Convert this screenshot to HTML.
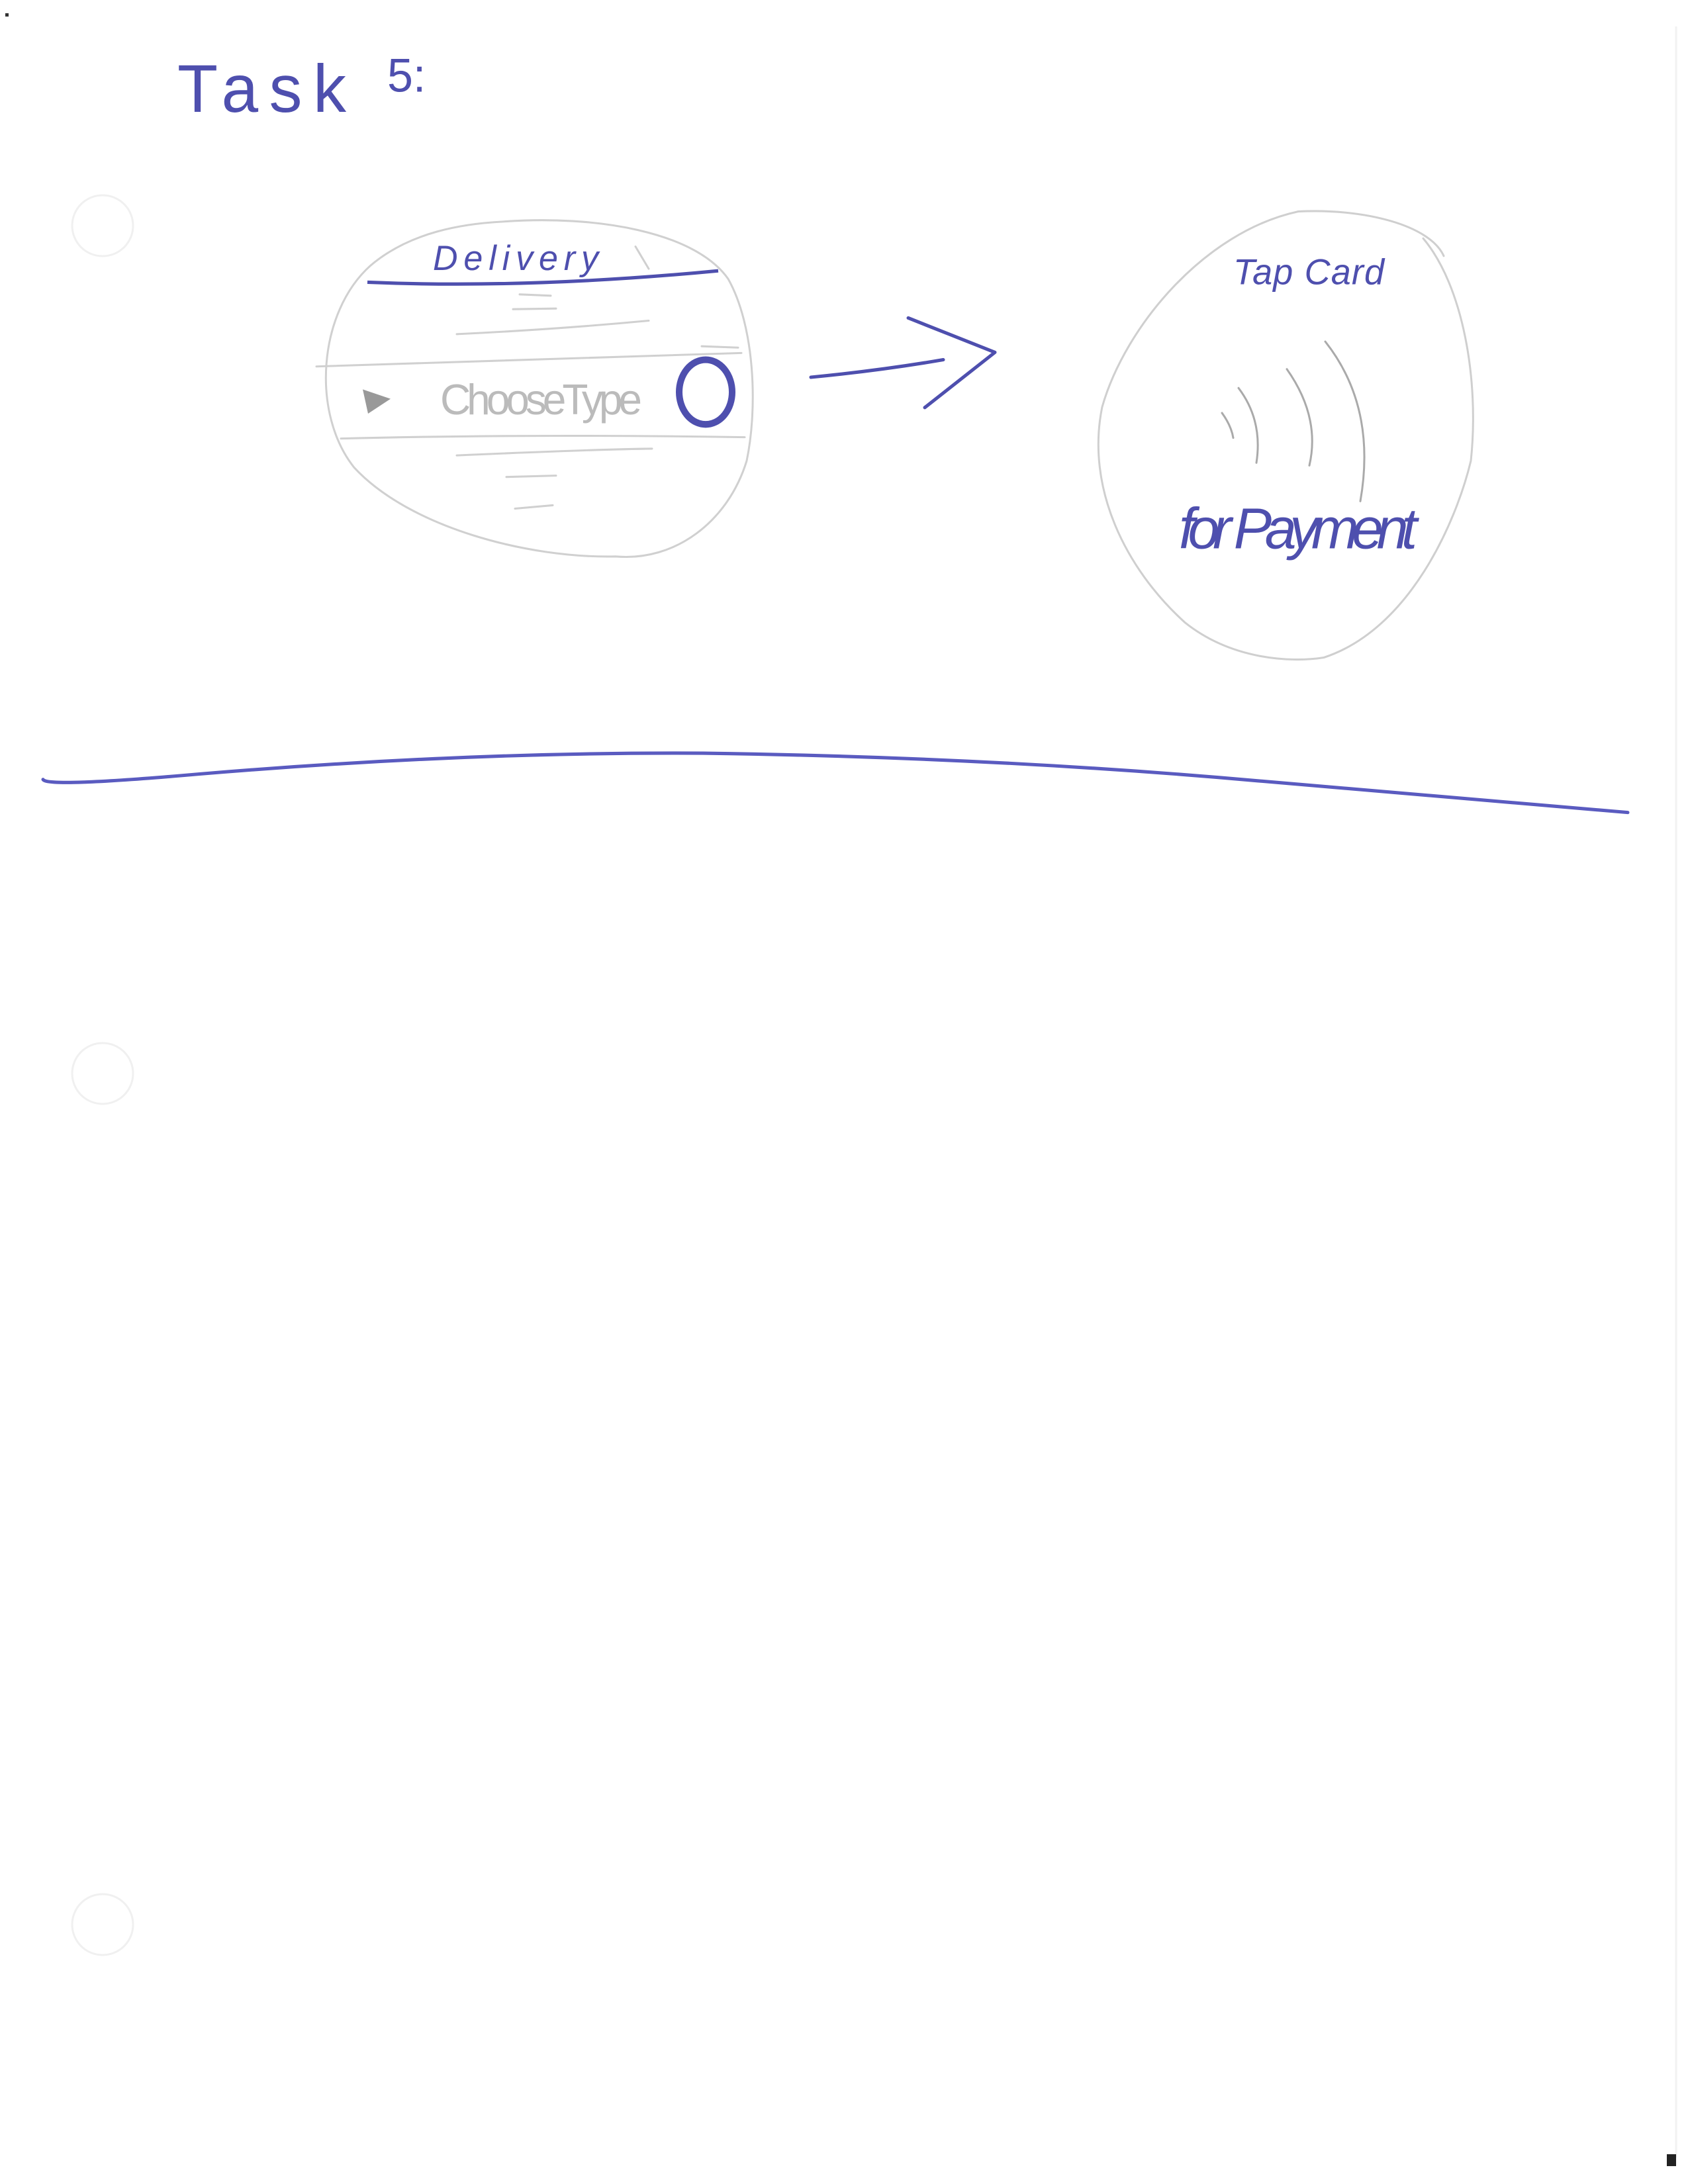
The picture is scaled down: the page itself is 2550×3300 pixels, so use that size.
<!DOCTYPE html>
<html><head><meta charset="utf-8"><style>
html,body{margin:0;padding:0;background:#fff;}
svg{display:block;}
</style></head><body>
<svg width="2550" height="3300" viewBox="0 0 2550 3300" xmlns="http://www.w3.org/2000/svg">
<rect width="2550" height="3300" fill="#fff"/>
<circle cx="155" cy="341" r="46" fill="none" stroke="#f0f0f0" stroke-width="3"/>
<circle cx="155" cy="1622" r="46" fill="none" stroke="#f0f0f0" stroke-width="3"/>
<circle cx="155" cy="2908" r="46" fill="none" stroke="#f0f0f0" stroke-width="3"/>
<line x1="2532" y1="40" x2="2532" y2="3260" stroke="#f2f2f2" stroke-width="3"/>
<rect x="2518" y="3255" width="14" height="18" fill="#222"/>
<rect x="8" y="20" width="5" height="5" fill="#333"/>

<g transform="translate(0,4) scale(1,1.018)">
<g font-family="Liberation Sans, sans-serif" fill="#4e4fae">
<text x="268" y="162" font-size="100" textLength="255">Task</text>
<text x="585" y="132" font-size="70">5:</text>
</g>

<!-- left screen -->
<g fill="none" stroke="#d0d0d0" stroke-width="3" stroke-linecap="round">
<path d="M760 325 C900 315 1050 340 1100 410 C1140 480 1145 600 1128 680 C1100 770 1020 830 930 822 C800 825 620 780 535 690 C470 610 480 460 560 390 C620 340 700 328 760 325 Z"/>
<path d="M960 362 L980 395"/>
<line x1="785" y1="433" x2="832" y2="435"/>
<line x1="775" y1="455" x2="840" y2="454"/>
<path d="M690 492 Q840 485 980 472"/>
<path d="M478 540 Q800 530 1120 520"/>
<path d="M1060 510 L1115 512"/>
<path d="M515 647 Q800 640 1125 645"/>
<path d="M690 672 Q900 663 985 662"/>
<line x1="765" y1="704" x2="840" y2="702"/>
<line x1="778" y1="751" x2="835" y2="746"/>
</g>
<text x="654" y="397" font-family="Liberation Sans, sans-serif" font-size="52" fill="#4e4fae" font-style="italic" textLength="250">Delivery</text>
<path d="M555 415 Q800 425 1085 398" fill="none" stroke="#4e4fae" stroke-width="5"/>
<polygon points="548,574 590,588 556,610" fill="#999"/>
<text x="665" y="611" font-family="Liberation Sans, sans-serif" font-size="64" fill="#bbb" textLength="305">ChooseType</text>
<ellipse cx="1066" cy="578" rx="40" ry="48" fill="none" stroke="#4e4fae" stroke-width="10"/>

<!-- arrow -->
<g fill="none" stroke="#4e4fae" stroke-width="5" stroke-linecap="round" stroke-linejoin="round">
<path d="M1225 556 Q1330 546 1425 530"/>
<path d="M1372 468 L1503 519 L1397 601"/>
</g>

<!-- right screen -->
<g fill="none" stroke="#cfcfcf" stroke-width="3" stroke-linecap="round">
<path d="M1961 310 C2060 305 2160 330 2181 376"/>
<path d="M1961 310 C1820 340 1700 480 1665 600 C1640 720 1700 840 1790 920 C1860 975 1950 980 2000 972 C2130 930 2200 770 2222 680 C2235 560 2210 420 2150 350"/>
<path d="M1846 609 Q1860 628 1863 646" stroke="#aaa"/>
<path d="M1871 572 Q1908 620 1898 683" stroke="#aaa"/>
<path d="M1944 544 Q1995 615 1978 687" stroke="#aaa"/>
<path d="M2002 503 Q2080 600 2055 740" stroke="#aaa"/>
</g>
<g font-family="Liberation Sans, sans-serif" fill="#4e4fae" font-style="italic">
<text x="1863" y="418" font-size="54" textLength="228">Tap Card</text>
<text x="1781" y="810" font-size="86" textLength="360">for Payment</text>
</g>

<!-- divider -->
<path d="M65 1153 Q70 1165 300 1145 Q700 1112 1062 1114 Q1500 1120 1900 1155 Q2200 1180 2459 1202" fill="none" stroke="#5a5bc0" stroke-width="5" stroke-linecap="round"/>
</g>
</svg>
</body></html>
